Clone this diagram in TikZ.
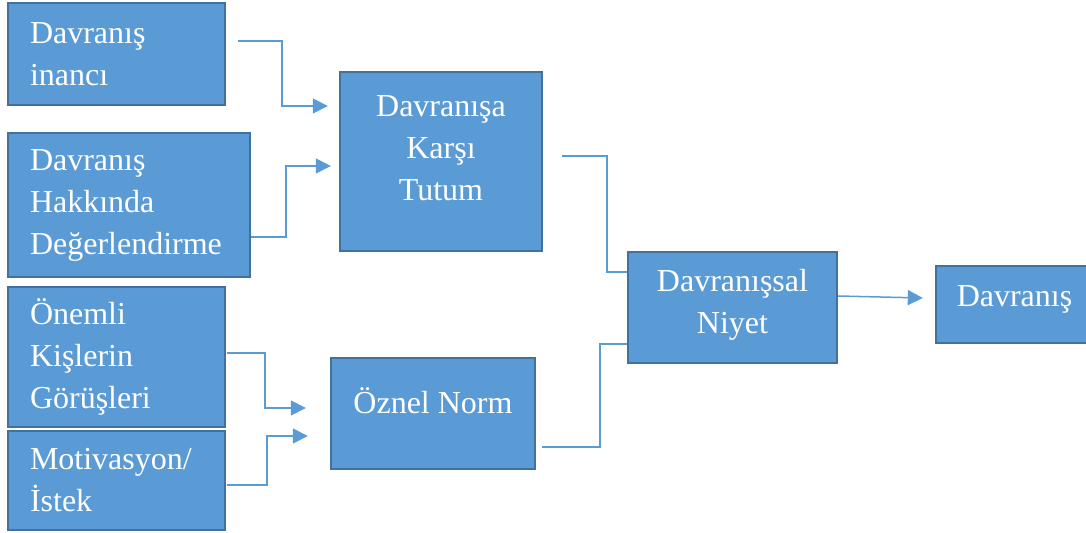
\documentclass[tikz,border=0pt]{standalone}
\usepackage{fontspec}
\setmainfont{Liberation Serif}
\usetikzlibrary{calc,arrows.meta}
\definecolor{boxfill}{HTML}{5B9BD5}
\definecolor{boxline}{HTML}{41719C}
\definecolor{linkline}{HTML}{5B9BD5}

\tikzset{
  block/.style={draw=boxline,line width=1.2pt,fill=boxfill,text=white,font=\fontsize{16}{21}\selectfont},
  leftblock/.style={block,align=left,inner xsep=11pt},
  midblock/.style={block,align=center},
  lift/.style={text depth=#1},
  link/.style={draw=linkline,line width=0.75pt,-{Triangle[length=7.5pt,width=7.5pt]}}
}

\begin{document}
\begin{tikzpicture}[x=0.5pt,y=-0.5pt]
\useasboundingbox (0,0) rectangle (1086,533);

% inputs on the left
\node [leftblock,text width=86.5pt,minimum height=51pt] (inanc) at (116.5,54) {Davranış\\inancı};
\node [leftblock,text width=99pt,minimum height=72pt] (deger) at (129,205) {Davranış\\Hakkında\\Değerlendirme};
\node [leftblock,text width=86.5pt,minimum height=70pt] (gorus) at (116.5,357) {Önemli\\Kişlerin\\Görüşleri};
\node [leftblock,text width=86.5pt,minimum height=49.5pt] (motiv) at (116.5,480.5) {Motivasyon/\\İstek};

% middle
\node [midblock,lift=13pt,minimum width=101pt,minimum height=89.5pt] (tutum) at (441,161.5) {Davranışa\\Karşı\\Tutum};
\node [midblock,lift=13pt,minimum width=102pt,minimum height=55.5pt] (norm) at (433,413.5) {Öznel Norm};
\node [midblock,lift=6.5pt,minimum width=104.5pt,minimum height=55.5pt] (niyet) at (732.5,307.5) {Davranışsal\\Niyet};
\node [midblock,lift=8pt,minimum width=78.5pt,minimum height=38.5pt] (davr) at (1014.5,304.5) {Davranış};

\draw[link] ($(inanc.east)+(12,-13)$) -| ($(tutum.west)+(-57,-55.5)$) -- ($(tutum.west)+(-11,-55.5)$);
\draw[link] ($(deger.east)+(0,32)$) -| ($(tutum.west)+(-53,4.5)$) -- ($(tutum.west)+(-8,4.5)$);
\draw[link] ($(gorus.east)+(1,-4)$) -| ($(norm.west)+(-65,-5.5)$) -- ($(norm.west)+(-24,-5.5)$);
\draw[link] ($(motiv.east)+(1,4.5)$) -| ($(norm.west)+(-63,22.5)$) -- ($(norm.west)+(-22,22.5)$);

\draw[link,-] ($(tutum.east)+(19,-5.5)$) -| ($(niyet.west)+(-20,-35.5)$) -- ($(niyet.west)+(0,-35.5)$);
\draw[link,-] ($(norm.east)+(6,33.5)$) -| ($(niyet.west)+(-27,36.5)$) -- ($(niyet.west)+(0,36.5)$);

\draw[link] ($(niyet.east)+(0,-11.5)$) -- ($(davr.west)+(-12,-6.5)$);

\end{tikzpicture}
\end{document}
